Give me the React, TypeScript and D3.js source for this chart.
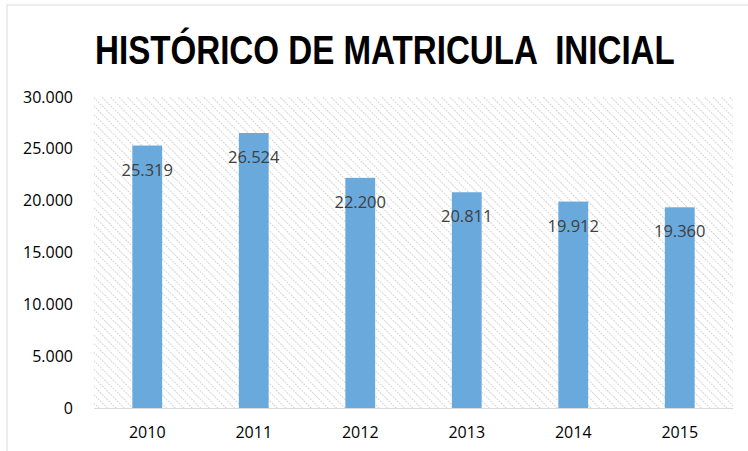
import React, { useEffect, useRef } from "react";
import * as d3 from "d3";

const years = ["2010", "2011", "2012", "2013", "2014", "2015"];
const enrolment = [25319, 26524, 22200, 20811, 19912, 19360];
const yTicks = [0, 5000, 10000, 15000, 20000, 25000, 30000];

const fmt = (v: number) => d3.format(",")(v).replace(/,/g, ".");

export default function App() {
  const ref = useRef<SVGSVGElement | null>(null);

  useEffect(() => {
    const width = 748;
    const height = 451;
    const margin = { top: 97, right: 15, bottom: 43, left: 94 };

    const svg = d3.select(ref.current);
    svg.selectAll("*").remove();
    svg.attr("width", width).attr("height", height);

    const defs = svg.append("defs");
    const pat = defs.append("pattern")
      .attr("id", "hatch")
      .attr("patternUnits", "userSpaceOnUse")
      .attr("width", 6)
      .attr("height", 6)
      .attr("patternTransform", "rotate(45)");
    pat.append("rect").attr("width", 6).attr("height", 6).attr("fill", "#ffffff");
    pat.append("line")
      .attr("x1", 0).attr("y1", 0).attr("x2", 6).attr("y2", 0)
      .attr("stroke", "#d4d4d4")
      .attr("stroke-width", 2.2)
      .attr("stroke-dasharray", "2,1");

    svg.append("rect")
      .attr("width", width).attr("height", height).attr("fill", "#ffffff");

    // chart frame
    svg.append("rect")
      .attr("x", 7).attr("y", 5)
      .attr("width", width + 10).attr("height", height + 10)
      .attr("fill", "none").attr("stroke", "#d9d9d9").attr("stroke-width", 1);

    const innerW = width - margin.left - margin.right;
    const innerH = height - margin.top - margin.bottom;

    const x = d3.scaleBand().domain(years).range([0, innerW]).paddingInner(0.72).paddingOuter(0.36);
    const y = d3.scaleLinear().domain([0, 30000]).range([innerH, 0]);

    const g = svg.append("g").attr("transform", `translate(${margin.left},${margin.top})`);

    g.append("rect")
      .attr("width", innerW).attr("height", innerH)
      .attr("fill", "url(#hatch)");

    g.append("line")
      .attr("x1", 0).attr("x2", innerW)
      .attr("y1", innerH + 0.5).attr("y2", innerH + 0.5)
      .attr("stroke", "#d9d9d9").attr("stroke-width", 1);

    g.selectAll("rect.bar")
      .data(enrolment)
      .enter().append("rect")
      .attr("class", "bar")
      .attr("x", (_, i) => x(years[i]) as number)
      .attr("y", d => y(d))
      .attr("width", x.bandwidth())
      .attr("height", d => innerH - y(d))
      .attr("fill", "#6aa9dc");

    g.selectAll("text.val")
      .data(enrolment)
      .enter().append("text")
      .attr("class", "val")
      .attr("x", (_, i) => (x(years[i]) as number) + x.bandwidth() / 2)
      .attr("y", d => y(d) + 30)
      .attr("text-anchor", "middle")
      .attr("font-family", "'Open Sans', sans-serif")
      .attr("font-size", 16.5)
      .attr("fill", "#404040")
      .text(d => fmt(d));

    const yAxis = g.append("g").call(d3.axisLeft(y).tickValues(yTicks).tickSize(0).tickPadding(21).tickFormat(d => fmt(+d)));
    yAxis.select(".domain").remove();
    yAxis.selectAll("text")
      .attr("font-family", "'Open Sans', sans-serif")
      .attr("font-size", 16)
      .attr("fill", "#000000");

    const xAxis = g.append("g")
      .attr("transform", `translate(0,${innerH})`)
      .call(d3.axisBottom(x).tickSize(0).tickPadding(19));
    xAxis.select(".domain").remove();
    xAxis.selectAll("text")
      .attr("font-family", "'Open Sans', sans-serif")
      .attr("font-size", 16)
      .attr("fill", "#000000");

    const title = svg.append("text")
      .attr("x", 0)
      .attr("y", 0)
      .attr("font-family", "'Liberation Sans', Arial, sans-serif")
      .attr("font-weight", "bold")
      .attr("font-size", 40)
      .attr("fill", "#000000")
      .style("white-space", "pre")
      .text("HISTÓRICO DE MATRICULA  INICIAL");
    const tw = (title.node() as SVGTextElement).getComputedTextLength() || 700;
    title.attr("transform", `translate(95,64) scale(${580 / tw},1)`);
  }, []);

  return (
    <div style={{ position: "absolute", left: 0, top: 0 }}>
      <svg ref={ref} style={{ display: "block" }} />
    </div>
  );
}
